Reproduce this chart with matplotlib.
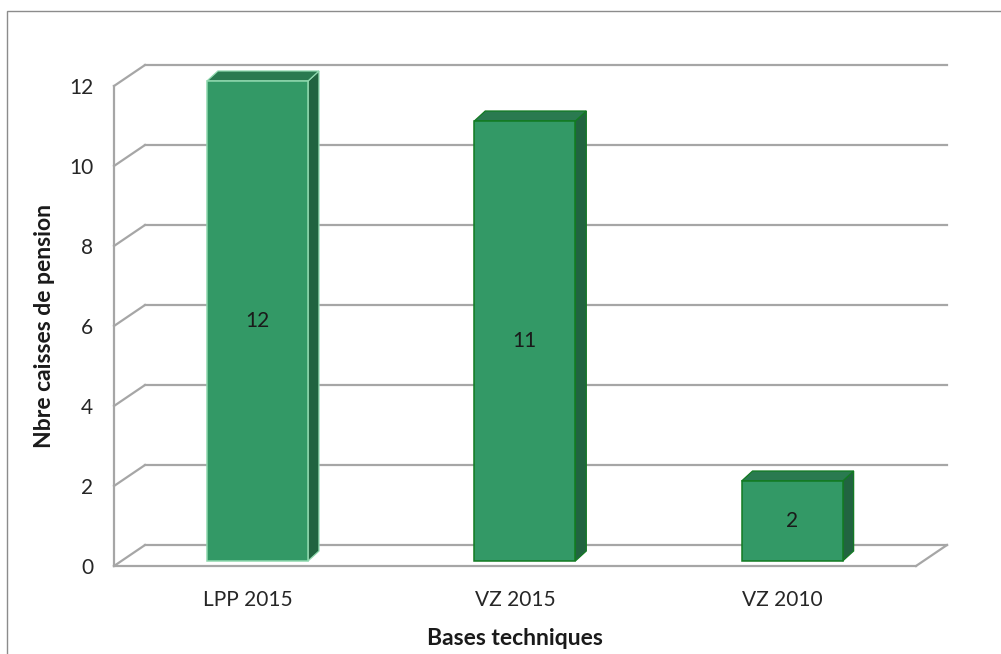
import matplotlib
matplotlib.use("Agg")
import matplotlib.pyplot as plt
from matplotlib.patches import Polygon, Rectangle

plt.rcParams['font.family'] = ['Lato', 'DejaVu Sans']

# ---- data ----
categories = ["LPP 2015", "VZ 2015", "VZ 2010"]
values = [12, 11, 2]
y_ticks = [0, 2, 4, 6, 8, 10, 12]
x_title = "Bases techniques"
y_title = "Nbre caisses de pension"

W, H = 1001, 654
fig = plt.figure(figsize=(W / 100, H / 100), dpi=100)
fig.patch.set_facecolor("white")

# outer chart frame
fig.patches.append(Rectangle((7 / W, -0.1), 1.2, (H - 11) / H + 0.1,
                             transform=fig.transFigure, fill=False,
                             edgecolor="#8c8c8c", lw=1.0))

ax = fig.add_axes([114 / W, 88 / H, 802 / W, 480 / H])
ax.set_xlim(-0.5, len(categories) - 0.5)
ax.set_ylim(0, 12)
for s in ax.spines.values():
    s.set_visible(False)
ax.patch.set_visible(False)

# 3D depth of the walls (data units)
DX = 0.116
DY = 0.525
x_lo, x_hi = -0.5, len(categories) - 0.5
grid_kw = dict(color="#a6a6a6", lw=1.6, clip_on=False, zorder=1,
               solid_capstyle="projecting")

for v in y_ticks:
    ax.plot([x_lo + DX, x_hi + DX], [v + DY, v + DY], **grid_kw)
    ax.plot([x_lo, x_lo + DX], [v, v + DY], **grid_kw)
ax.plot([x_lo, x_lo], [0, max(y_ticks)], **grid_kw)
ax.plot([x_lo, x_hi], [0, 0], **grid_kw)
ax.plot([x_hi, x_hi + DX], [0, DY], **grid_kw)

# bars
OX, OY = 0.0367, 0.125
HW = 0.189
BDX, BDY = 0.041, 0.25
front_c = "#339966"
side_c = "#216440"
top_c = "#2a7a50"
edge_cs = ["#8fd8ae", "#127a22", "#127a22"]

for i, v in enumerate(values):
    x0 = i + OX - HW
    x1 = i + OX + HW
    y0 = OY
    y1 = v + OY
    ec = edge_cs[i]
    side = Polygon([(x1, y0), (x1 + BDX, y0 + BDY), (x1 + BDX, y1 + BDY), (x1, y1)],
                   closed=True, facecolor=side_c, edgecolor=ec, lw=0.9,
                   clip_on=False, zorder=3)
    top = Polygon([(x0, y1), (x1, y1), (x1 + BDX, y1 + BDY), (x0 + BDX, y1 + BDY)],
                  closed=True, facecolor=top_c, edgecolor=ec, lw=0.9,
                  clip_on=False, zorder=3)
    front = Rectangle((x0, y0), x1 - x0, y1 - y0, facecolor=front_c,
                      edgecolor=ec, lw=1.1, clip_on=False, zorder=4)
    ax.add_patch(side)
    ax.add_patch(top)
    ax.add_patch(front)
    ax.text(i + OX, OY + v / 2, str(v), ha="center", va="center",
            fontsize=15, color="#1a1a1a", zorder=5)

ax.set_yticks(y_ticks)
ax.set_yticklabels([str(t) for t in y_ticks])
ax.set_xticks(range(len(categories)))
ax.set_xticklabels(categories)
ax.tick_params(axis="y", length=0, pad=15, labelsize=15, labelcolor="#262626")
ax.tick_params(axis="x", length=0, pad=17, labelsize=15, labelcolor="#262626")

ax.set_xlabel(x_title, fontsize=16.5, fontweight="bold", color="#1a1a1a", labelpad=13)
ax.set_ylabel(y_title, fontsize=16.5, fontweight="bold", color="#1a1a1a", labelpad=10)

fig.savefig("out.png", dpi=100, facecolor="white")
